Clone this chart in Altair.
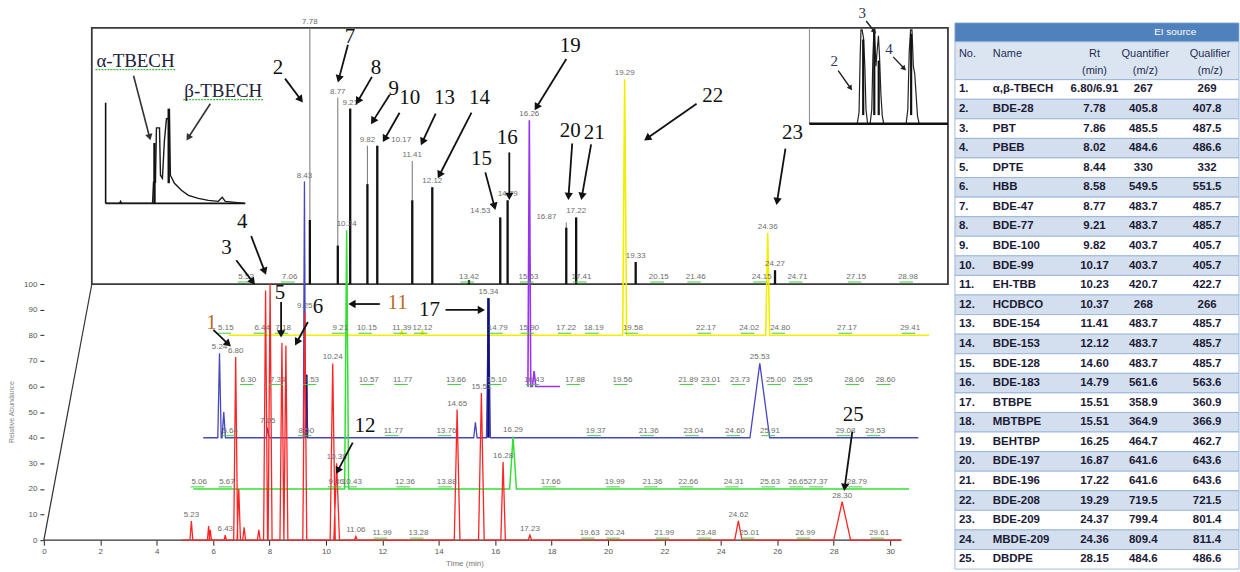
import math
import altair as alt
import pandas as pd

# ---------------------------------------------------------------------------
# Chromatogram peaks.  Each trace keeps retention times (min) on its own time
# base, peak heights (% above the trace baseline) and peak half-widths (min).
# ---------------------------------------------------------------------------
RED_RT = [5.23, 5.84, 5.90, 6.43, 6.80, 6.91, 7.10, 7.62, 7.86, 8.02, 8.44, 8.58,
          9.25, 10.24, 10.38, 11.06, 14.65, 15.51, 16.28, 17.23, 24.62, 28.30]
RED_H = [7.5, 5.5, 4.0, 2.0, 71.5, 20.0, 5.0, 4.0, 97.5, 100.0, 77.0, 76.0,
         89.0, 69.0, 30.0, 1.5, 51.0, 57.5, 30.5, 2.0, 7.5, 15.0]
RED_W = [0.05, 0.04, 0.04, 0.04, 0.07, 0.06, 0.05, 0.05, 0.07, 0.07, 0.07, 0.07,
         0.07, 0.09, 0.10, 0.05, 0.10, 0.10, 0.08, 0.06, 0.13, 0.30]
RED_LABELLED = [5.23, 6.43, 6.80, 9.25, 10.24, 10.38, 11.06, 14.65, 15.51, 16.28,
                17.23, 24.62, 28.30]
RED_NOISE = [11.99, 13.28, 19.63, 20.24, 21.99, 23.48, 25.01, 26.99, 29.61]

GREEN_RT = [10.24, 16.29]
GREEN_H = [101.0, 20.5]
GREEN_W = [0.07, 0.12]
GREEN_LABELLED = [10.24, 16.29]
GREEN_NOISE = [5.06, 5.67, 9.86, 10.43, 12.36, 13.88, 17.66, 19.99, 21.36, 22.66,
               24.31, 25.63, 26.65, 27.37, 28.79]

BLUE_RT = [5.24, 5.40, 7.05, 8.43, 8.50, 14.85, 15.34, 25.53]
BLUE_H = [33.0, 10.0, 4.0, 100.0, 24.6, 6.0, 54.5, 29.0]
BLUE_W = [0.06, 0.06, 0.05, 0.04, 0.05, 0.06, 0.07, 0.35]
BLUE_LABELLED = [5.24, 7.05, 8.43, 15.34, 25.53]
BLUE_CORE = [8.50, 15.34]
BLUE_NOISE = [5.64, 8.50, 11.77, 13.76, 19.37, 21.36, 23.04, 24.60, 25.91, 29.08, 29.53]

PURPLE_RT = [16.26, 16.43]
PURPLE_H = [104.0, 6.0]
PURPLE_W = [0.05, 0.06]
PURPLE_LABELLED = [16.26]
PURPLE_NOISE = [6.30, 7.34, 8.53, 10.57, 11.77, 13.66, 15.10, 16.43, 17.88, 19.56,
                21.89, 23.01, 23.73, 25.00, 25.95, 28.06, 28.60]

YELLOW_RT = [11.39, 12.12, 19.29, 24.36]
YELLOW_H = [2.0, 2.0, 100.0, 40.0]
YELLOW_W = [0.04, 0.04, 0.07, 0.07]
YELLOW_LABELLED = [19.29, 24.36]
YELLOW_NOISE = [5.15, 6.44, 7.18, 9.21, 10.15, 11.39, 12.12, 14.79, 15.90, 17.22,
                18.19, 19.58, 22.17, 24.02, 24.80, 27.17, 29.41]

# zoomed (boxed) chromatogram: total peak height and height of the dark core
BOX_RT = [7.78, 8.77, 9.21, 9.82, 10.17, 11.41, 12.12, 13.42, 14.53, 14.79, 16.87,
          17.22, 19.33, 24.27]
BOX_TOP = [100.0, 72.8, 68.5, 54.0, 54.0, 48.0, 37.8, 1.5, 26.0, 32.7, 24.0, 26.0,
           8.6, 5.4]
BOX_CORE = [25.0, 15.0, 68.5, 39.0, 54.0, 32.7, 37.8, 1.5, 26.0, 32.7, 22.0, 26.0,
            8.6, 5.4]
BOX_LABELLED = [7.78, 8.77, 9.21, 9.82, 11.41, 12.12, 14.79, 17.22, 19.33, 24.27]
BOX_LABEL_RIGHT = [10.17]
BOX_LABEL_LEFT = [14.53, 16.87]
BOX_NOISE = [5.52, 7.06, 13.42, 15.53, 17.41, 20.15, 21.46, 24.15, 24.71, 27.15, 28.98]

# inset: alpha/beta-TBECH (inset time units 0-10, abundance 0-100)
TL_U = [0.0, 1.0, 1.07, 1.15, 3.36, 3.43, 3.57, 3.64, 3.86, 3.93, 4.07, 4.21, 4.36,
        4.50, 4.57, 4.64, 4.93, 5.43, 5.93, 6.64, 7.36, 8.07, 8.36, 8.57, 10.0]
TL_V = [0, 0, 2, 0, 0, 21, 21, 75, 75, 28, 25, 62, 84, 84, 94, 28, 20, 13, 8, 5, 3,
        2, 6, 2, 0]
# inset: peaks 2-4
TR_U = [0, 3.45, 3.58, 3.66, 3.72, 3.80, 3.90, 4.00, 4.08, 4.20, 4.38, 4.50, 4.58,
        4.66, 4.74, 4.80, 4.88, 4.98, 5.06, 5.16, 5.26, 5.36, 6.98, 7.10, 7.20, 7.30,
        7.40, 7.50, 7.60, 7.70, 7.80, 7.92, 10]
TR_V = [0, 0, 12, 70, 98, 98, 90, 60, 15, 0, 0, 15, 70, 99, 80, 60, 75, 92, 70, 30,
        8, 0, 0, 15, 75, 98, 98, 60, 52, 30, 8, 0, 0]
TR_CORE_U = [3.88, 4.68, 5.00, 7.34]
TR_CORE_V = [88, 97, 66, 94]

# numbered compound call-outs: label position and arrow (from -> to), in (min, %)
ANN_TEXT = ["1", "2", "3", "4", "5", "6", "7", "8", "9", "10", "11", "12", "13",
            "14", "15", "16", "17", "19", "20", "21", "22", "23", "25"]
ANN_T = [5.94, 8.30, 6.47, 7.03, 8.37, 9.72, 10.85, 11.77, 12.40, 12.97, 12.54, 11.38,
         14.20, 15.44, 15.51, 16.43, 13.67, 18.66, 18.66, 19.51, 23.71, 26.54, 28.69]
ANN_A = [84.8, 184.4, 114.0, 124.1, 96.5, 91.1, 196.5, 184.4, 176.3, 172.8, 92.6, 44.7,
         172.8, 172.8, 149.0, 157.2, 89.9, 193.0, 159.9, 159.1, 173.5, 159.1, 49.0]
ARR_T0 = [6.01, 8.55, 6.82, 7.35, 8.41, 9.36, 10.78, 11.63, 12.26, 12.61, 11.91, 10.95,
          13.89, 15.16, 15.65, 16.50, 14.24, 18.52, 18.73, 19.40, 23.14, 26.29, 28.66]
ARR_A0 = [82.1, 180.2, 109.3, 118.7, 93.0, 85.2, 193.4, 180.9, 173.9, 166.9, 92.2, 38.1,
          166.5, 166.9, 143.6, 151.4, 89.9, 187.9, 154.9, 154.5, 170.4, 152.9, 42.4]
ARR_T1 = [6.64, 9.19, 7.49, 7.88, 8.41, 8.90, 10.42, 11.06, 11.59, 12.01, 10.78, 10.35,
          13.36, 13.96, 16.01, 16.50, 15.65, 17.39, 18.59, 19.05, 21.27, 25.97, 28.37]
ARR_A1 = [75.5, 170.8, 99.6, 103.5, 79.0, 75.9, 178.6, 170.0, 162.3, 155.3, 92.2, 25.7,
          154.1, 141.2, 128.8, 132.7, 89.9, 167.7, 132.7, 132.7, 156.0, 130.7, 19.1]
ANN_HIGHLIGHT = ["1", "11"]

INSET_TEXT = ["2", "3", "4"]
INSET_T = [28.02, 29.01, 29.96]
INSET_A = [187.2, 205.8, 191.8]
INSET_T0 = [28.16, 29.15, 30.11]
INSET_A0 = [183.3, 202.7, 188.7]
INSET_T1 = [28.66, 29.51, 30.57]
INSET_A1 = [175.5, 197.7, 183.3]

ISOMER_TEXT = ["α-TBECH", "β-TBECH"]
ISOMER_T = [3.25, 6.36]
ISOMER_A = [187.2, 175.5]
ISOMER_T0 = [3.18, 5.90]
ISOMER_A0 = [181.3, 170.4]
ISOMER_T1 = [3.78, 5.05]
ISOMER_A1 = [156.0, 156.0]

X_TICKS = list(range(0, 31, 2))
Y_TICKS = list(range(0, 101, 10))

# compound table
TAB_NO = [f"{i}." for i in range(1, 26)]
TAB_NAME = ["α,β-TBECH", "BDE-28", "PBT", "PBEB", "DPTE", "HBB", "BDE-47", "BDE-77",
            "BDE-100", "BDE-99", "EH-TBB", "HCDBCO", "BDE-154", "BDE-153", "BDE-128",
            "BDE-183", "BTBPE", "MBTBPE", "BEHTBP", "BDE-197", "BDE-196", "BDE-208",
            "BDE-209", "MBDE-209", "DBDPE"]
TAB_RT = ["6.80/6.91", "7.78", "7.86", "8.02", "8.44", "8.58", "8.77", "9.21", "9.82",
          "10.17", "10.23", "10.37", "11.41", "12.12", "14.60", "14.79", "15.51",
          "15.51", "16.25", "16.87", "17.22", "19.29", "24.37", "24.36", "28.15"]
TAB_QUANT = ["267", "405.8", "485.5", "484.6", "330", "549.5", "483.7", "483.7",
             "403.7", "403.7", "420.7", "268", "483.7", "483.7", "483.7", "561.6",
             "358.9", "364.9", "464.7", "641.6", "641.6", "719.5", "799.4", "809.4",
             "484.6"]
TAB_QUAL = ["269", "407.8", "487.5", "486.6", "332", "551.5", "485.7", "485.7",
            "405.7", "405.7", "422.7", "266", "485.7", "485.7", "485.7", "563.6",
            "360.9", "366.9", "462.7", "643.6", "643.6", "721.5", "801.4", "811.4",
            "486.6"]

# ---------------------------------------------------------------------------
# geometry and scales of the chromatogram panel
# ---------------------------------------------------------------------------
W, H = 907, 536
T_MAX, A_MAX = 32.05, 208.6
PX_T, PX_A = W / T_MAX, H / A_MAX
BOX_LEFT = 1.70

# small sideways nudges (px) that keep neighbouring retention-time labels apart
LABEL_NUDGE = {("red", 19.63): -8, ("green", 5.06): -5, ("green", 5.67): 6,
               ("blue", 29.08): -9, ("blue", 29.53): 9,
               ("purple", 23.01): -9, ("purple", 28.06): -8, ("purple", 28.60): 8,
               ("yellow", 24.02): -9, ("box", 24.15): -10, ("box", 24.71): 10}

XS = alt.Scale(domain=[0, T_MAX], nice=False, zero=False)
YS = alt.Scale(domain=[0, A_MAX], nice=False, zero=False)
XAX = alt.Axis(values=X_TICKS, title="Time (min)", domain=False, grid=False,
               tickColor="#222", tickSize=5, labelFontSize=8, labelColor="#555",
               labelFont="Liberation Sans", labelFlush=False, labelPadding=2,
               titleFont="Liberation Sans", titleFontSize=8, titleColor="#777",
               titleFontWeight="normal", titleX=422, titlePadding=4)
YAX = alt.Axis(values=Y_TICKS, title="Relative Abundance", domain=False, grid=False,
               tickColor="#222", tickSize=4, labelFontSize=8, labelColor="#555",
               labelFont="Liberation Sans", labelPadding=3,
               titleFont="Liberation Sans", titleFontSize=7, titleColor="#888",
               titleFontWeight="normal", titleX=-29, titleY=407)


def X(f="t"):
    return alt.X(f"{f}:Q", scale=XS, axis=XAX)


def Y(f="a"):
    return alt.Y(f"{f}:Q", scale=YS, axis=YAX)


def trace_frame(rts, hs, ws, base, start, end, shift, stretch):
    pts = [(start, base)]
    for rt, h, w in sorted(zip(rts, hs, ws)):
        t = shift + stretch * rt
        pts += [(t - w, base), (t, base + h), (t + w, base)]
    pts.append((end, base))
    return pd.DataFrame({"i": range(len(pts)), "t": [p[0] for p in pts],
                         "a": [p[1] for p in pts]})


def trace_layer(df, color, width):
    return alt.Chart(df).mark_line(color=color, strokeWidth=width).encode(
        x=X(), y=Y(), order="i:Q")


def peak_label_frame(rts, hs, labelled, base, shift, stretch):
    rows = [dict(t=shift + stretch * rt, a=base + h, label=f"{rt:.2f}")
            for rt, h in zip(rts, hs) if rt in labelled]
    return pd.DataFrame(rows)


def noise_frame(name, values, base, shift, stretch):
    ts = [shift + stretch * v + LABEL_NUDGE.get((name, v), 0) / PX_T for v in values]
    return pd.DataFrame({"t": ts, "a": [base] * len(values),
                         "label": [f"{v:.2f}" for v in values]})


LABEL_STYLE = dict(fontSize=8, color="#6d6d6d", font="Liberation Sans",
                   baseline="bottom")


def label_layer(df, dx=0, dy=-2):
    return alt.Chart(df).mark_text(dx=dx, dy=dy, **LABEL_STYLE).encode(
        x=X(), y=Y(), text="label:N")


def underline_layer(df):
    return alt.Chart(df).transform_calculate(
        t0="datum.t - 0.30", t1="datum.t + 0.18", au="datum.a + 0.8"
    ).mark_rule(color="#3fcf3f", strokeWidth=1).encode(
        x=X("t0"), x2="t1:Q", y=Y("au"))


def arrow_frames(t0s, a0s, t1s, a1s, back_px):
    shafts, heads = [], []
    for t0, a0, t1, a1 in zip(t0s, a0s, t1s, a1s):
        dx, dy = (t1 - t0) * PX_T, (a1 - a0) * PX_A
        n = math.hypot(dx, dy)
        ux, uy = dx / n, dy / n
        th, ah = t1 - ux * back_px / PX_T, a1 - uy * back_px / PX_A
        shafts.append(dict(t=t0, a=a0, t2=th, a2=ah))
        heads.append(dict(t=th, a=ah, ang=math.degrees(math.atan2(dx, dy)) % 360))
    return pd.DataFrame(shafts), pd.DataFrame(heads)


def arrow_layers(t0s, a0s, t1s, a1s, width, head, back_px, color="#111"):
    s, h = arrow_frames(t0s, a0s, t1s, a1s, back_px)
    shaft = alt.Chart(s).mark_rule(color=color, strokeWidth=width).encode(
        x=X(), x2="t2:Q", y=Y(), y2="a2:Q")
    tip = alt.Chart(h).mark_point(shape="triangle-up", filled=True, size=head,
                                  color=color, opacity=1).encode(
        x=X(), y=Y(), angle=alt.Angle("ang:Q", scale=None))
    return [shaft, tip]


def rule_frame(t0, a0, t1, a1):
    return pd.DataFrame({"t": [t0], "a": [a0], "t2": [t1], "a2": [a1]})


def rule_layer(df, color, width, dash=None):
    kw = dict(color=color, strokeWidth=width)
    if dash:
        kw["strokeDash"] = dash
    return alt.Chart(df).mark_rule(**kw).encode(x=X(), x2="t2:Q", y=Y(), y2="a2:Q")


layers = []

# axis line and the zoom connector
layers.append(rule_layer(rule_frame(0, 0, 30.4, 0), "#333", 1.3))
layers.append(rule_layer(rule_frame(0, 0, BOX_LEFT, 100), "#333", 1.2))

# zoom frame
box = pd.DataFrame({"t": [BOX_LEFT], "t2": [T_MAX], "a": [100], "a2": [200]})
layers.append(alt.Chart(box).mark_rect(fillOpacity=0, stroke="#3a3a3a",
                                       strokeWidth=1.8).encode(
    x=X(), x2="t2:Q", y=Y(), y2="a2:Q"))

# boxed peaks: grey outline and dark core
BOX_SHIFT, BOX_BASE = 1.65, 100
bx = pd.DataFrame({"t": [BOX_SHIFT + r for r in BOX_RT],
                   "a": [BOX_BASE] * len(BOX_RT),
                   "top": [BOX_BASE + h for h in BOX_TOP],
                   "core": [BOX_BASE + c for c in BOX_CORE]})
layers.append(alt.Chart(bx).mark_rule(color="#808080", strokeWidth=1.1).encode(
    x=X(), y=Y(), y2="top:Q"))
layers.append(alt.Chart(bx).mark_rule(color="#111", strokeWidth=2.3).encode(
    x=X(), y=Y(), y2="core:Q"))

# main traces
red = trace_frame(RED_RT, RED_H, RED_W, 0, 4.9, 30.4, 0.0, 1.0)
green = trace_frame(GREEN_RT, GREEN_H, GREEN_W, 20, 5.3, 30.67, 0.75, 0.975)
blue = trace_frame(BLUE_RT, BLUE_H, BLUE_W, 40, 5.65, 31.0, 1.28, 0.944)
purple = trace_frame(PURPLE_RT, PURPLE_H, PURPLE_W, 60, 17.15, 18.3, 0.95, 1.0)
yellow = trace_frame(YELLOW_RT, YELLOW_H, YELLOW_W, 80, 6.54, 31.38, 1.30, 1.0)

layers.append(trace_layer(yellow, "#f2ee00", 1.6))
layers.append(trace_layer(purple, "#9a30f0", 1.6))
layers.append(trace_layer(blue, "#4646c0", 1.3))
blue_core = pd.DataFrame({"t": [1.28 + 0.944 * r for r in BLUE_CORE],
                          "a": [40] * len(BLUE_CORE),
                          "top": [40 + BLUE_H[BLUE_RT.index(r)] for r in BLUE_CORE]})
layers.append(alt.Chart(blue_core).mark_rule(color="#10107a", strokeWidth=2.6).encode(
    x=X(), y=Y(), y2="top:Q"))
layers.append(trace_layer(green, "#33df33", 1.5))
layers.append(trace_layer(red, "#ff2424", 1.3))

# retention-time labels
noise = pd.concat([
    noise_frame("red", RED_NOISE, 0, 0.0, 1.0),
    noise_frame("green", GREEN_NOISE, 20, 0.75, 0.975),
    noise_frame("blue", BLUE_NOISE, 40, 1.28, 0.944),
    noise_frame("purple", PURPLE_NOISE, 60, 0.95, 1.0),
    noise_frame("yellow", YELLOW_NOISE, 80, 1.30, 1.0),
    noise_frame("box", BOX_NOISE, 100, BOX_SHIFT, 1.0),
], ignore_index=True)
layers.append(underline_layer(noise))
layers.append(label_layer(noise, dy=-3))

peaks = pd.concat([
    peak_label_frame(RED_RT, RED_H, RED_LABELLED, 0, 0.0, 1.0),
    peak_label_frame(GREEN_RT, GREEN_H, GREEN_LABELLED, 20, 0.75, 0.975),
    peak_label_frame(BLUE_RT, BLUE_H, BLUE_LABELLED, 40, 1.28, 0.944),
    peak_label_frame(PURPLE_RT, PURPLE_H, PURPLE_LABELLED, 60, 0.95, 1.0),
    peak_label_frame(YELLOW_RT, YELLOW_H, YELLOW_LABELLED, 80, 1.30, 1.0),
    peak_label_frame(BOX_RT, BOX_TOP, BOX_LABELLED, 100, BOX_SHIFT, 1.0),
], ignore_index=True)
layers.append(label_layer(peaks))
layers.append(label_layer(peak_label_frame(BOX_RT, BOX_TOP, BOX_LABEL_RIGHT, 100,
                                           BOX_SHIFT, 1.0), dx=24))
layers.append(label_layer(peak_label_frame(BOX_RT, BOX_TOP, BOX_LABEL_LEFT, 100,
                                           BOX_SHIFT, 1.0), dx=-20))

# inset: alpha/beta-TBECH
TL_T0, TL_TS, TL_A0, TL_AS = 2.19, 0.4947, 131.5, 0.393
tl = pd.DataFrame({"i": range(len(TL_U)), "t": [TL_T0 + u * TL_TS for u in TL_U],
                   "a": [TL_A0 + v * TL_AS for v in TL_V]})
layers.append(rule_layer(rule_frame(TL_T0, TL_A0, TL_T0 + 10 * TL_TS, TL_A0), "#111", 1.6))
layers.append(rule_layer(rule_frame(TL_T0, TL_A0, TL_T0, TL_A0 + 100 * TL_AS), "#111", 1.6))
layers.append(trace_layer(tl, "#1a1a1a", 1.4))
tl_core = pd.DataFrame({"t": [TL_T0 + 3.50 * TL_TS, TL_T0 + 4.52 * TL_TS],
                        "a": [TL_A0, TL_A0 + 20 * TL_AS],
                        "top": [TL_A0 + 60 * TL_AS, TL_A0 + 94 * TL_AS]})
layers.append(alt.Chart(tl_core).mark_rule(color="#111", strokeWidth=2.4).encode(
    x=X(), y=Y(), y2="top:Q"))

# inset: peaks 2-4
TR_T0, TR_TS, TR_A0, TR_AS = 27.14, 0.4912, 162.6, 0.3735
tr = pd.DataFrame({"i": range(len(TR_U)), "t": [TR_T0 + u * TR_TS for u in TR_U],
                   "a": [TR_A0 + v * TR_AS for v in TR_V]})
layers.append(rule_layer(rule_frame(TR_T0, TR_A0, TR_T0, TR_A0 + 100 * TR_AS), "#888", 1.0))
layers.append(trace_layer(tr, "#222", 1.2))
tr_core = pd.DataFrame({"t": [TR_T0 + u * TR_TS for u in TR_CORE_U],
                        "a": [TR_A0 + 9 * TR_AS] * len(TR_CORE_U),
                        "top": [TR_A0 + v * TR_AS for v in TR_CORE_V]})
layers.append(alt.Chart(tr_core).mark_rule(color="#111", strokeWidth=2.2).encode(
    x=X(), y=Y(), y2="top:Q"))
layers.append(rule_layer(rule_frame(TR_T0, TR_A0, T_MAX, TR_A0), "#111", 2.6))

# isomer labels with their wavy underline
iso = pd.DataFrame({"t": ISOMER_T, "a": ISOMER_A, "label": ISOMER_TEXT})
iso_line = iso.assign(t0=iso["t"] - 1.42, t1=iso["t"] + 1.42, au=iso["a"] - 3.5)
layers.append(alt.Chart(iso_line).mark_rule(color="#44bb44", strokeWidth=1.3,
                                            strokeDash=[2, 1]).encode(
    x=X("t0"), x2="t1:Q", y=Y("au")))
layers.append(alt.Chart(iso).mark_text(font="Liberation Serif", fontSize=19,
                                       color="#222238", baseline="middle").encode(
    x=X(), y=Y(), text="label:N"))
layers += arrow_layers(ISOMER_T0, ISOMER_A0, ISOMER_T1, ISOMER_A1, 1.6, 55, 3.5, "#333")

# numbered call-outs
ann = pd.DataFrame({"t": ANN_T, "a": ANN_A, "label": ANN_TEXT})
layers += arrow_layers(ARR_T0, ARR_A0, ARR_T1, ARR_A1, 1.8, 70, 4.0)
layers.append(alt.Chart(ann).mark_text(font="Liberation Serif", fontSize=21,
                                       baseline="middle").encode(
    x=X(), y=Y(), text="label:N",
    color=alt.condition(alt.FieldOneOfPredicate(field="label", oneOf=ANN_HIGHLIGHT),
                        alt.value("#b8702a"), alt.value("#111"))))

ins = pd.DataFrame({"t": INSET_T, "a": INSET_A, "label": INSET_TEXT})
layers += arrow_layers(INSET_T0, INSET_A0, INSET_T1, INSET_A1, 1.4, 35, 3.0, "#222")
layers.append(alt.Chart(ins).mark_text(font="Liberation Serif", fontSize=15,
                                       color="#2d3560", baseline="middle").encode(
    x=X(), y=Y(), text="label:N"))

main = alt.layer(*layers).properties(width=W, height=H)

# ---------------------------------------------------------------------------
# compound table
# ---------------------------------------------------------------------------
TW, TH = 285, 565
ROW_TOP = -3.768
TXS = alt.Scale(domain=[0, TW], nice=False, zero=False)
TYS = alt.Scale(domain=[ROW_TOP, 25], nice=False, zero=False, reverse=True)


def TX(f="x"):
    return alt.X(f"{f}:Q", scale=TXS, axis=None)


def TY(f="y"):
    return alt.Y(f"{f}:Q", scale=TYS, axis=None)


bands = [dict(x=0, x2=TW, y=-2.90, y2=-1.935, fill="#4f81bd"),
         dict(x=0, x2=TW, y=-1.935, y2=0, fill="#dbe5f1")]
bands += [dict(x=0, x2=TW, y=i, y2=i + 1, fill="#ffffff" if i % 2 == 0 else "#d3dfee")
          for i in range(len(TAB_NO))]
bands = pd.DataFrame(bands)
t_rect = alt.Chart(bands).mark_rect(stroke="#8fadd6", strokeWidth=0.8).encode(
    x=TX(), x2="x2:Q", y=TY(), y2="y2:Q", fill=alt.Fill("fill:N", scale=None))

TABLE_FONT = "Liberation Sans Narrow, Liberation Sans, sans-serif"
cells = []
for col, xpos, side in [(TAB_NO, 4, "left"), (TAB_NAME, 38, "left"),
                        (TAB_RT, 140, "center"), (TAB_QUANT, 189, "center"),
                        (TAB_QUAL, 253, "center")]:
    for i, v in enumerate(col):
        cells.append(dict(x=xpos, y=i + 0.5, label=v, side=side))
cells = pd.DataFrame(cells)
t_left = alt.Chart(cells[cells["side"] == "left"]).mark_text(
    font=TABLE_FONT, fontSize=11.5, fontWeight="bold", color="#1b1b36", align="left",
    baseline="middle").encode(x=TX(), y=TY(), text="label:N")
t_center = alt.Chart(cells[cells["side"] == "center"]).mark_text(
    font=TABLE_FONT, fontSize=11.5, fontWeight="bold", color="#1b1b36", align="center",
    baseline="middle").encode(x=TX(), y=TY(), text="label:N")

heads = pd.DataFrame([
    dict(x=4, y=-1.32, label="No.", side="left"),
    dict(x=38, y=-1.32, label="Name", side="left"),
    dict(x=140, y=-1.32, label="Rt", side="center"),
    dict(x=140, y=-0.46, label="(min)", side="center"),
    dict(x=191, y=-1.32, label="Quantifier", side="center"),
    dict(x=191, y=-0.46, label="(m/z)", side="center"),
    dict(x=256, y=-1.32, label="Qualifier", side="center"),
    dict(x=256, y=-0.46, label="(m/z)", side="center"),
])
h_left = alt.Chart(heads[heads["side"] == "left"]).mark_text(
    font=TABLE_FONT, fontSize=11, color="#1f2d55", align="left",
    baseline="middle").encode(x=TX(), y=TY(), text="label:N")
h_center = alt.Chart(heads[heads["side"] == "center"]).mark_text(
    font=TABLE_FONT, fontSize=11, color="#1f2d55", align="center",
    baseline="middle").encode(x=TX(), y=TY(), text="label:N")
ei = pd.DataFrame({"x": [221], "y": [-2.42], "label": ["EI source"]})
h_ei = alt.Chart(ei).mark_text(font=TABLE_FONT, fontSize=10, color="#ffffff",
                               baseline="middle").encode(x=TX(), y=TY(), text="label:N")

table = alt.layer(t_rect, t_left, t_center, h_left, h_center, h_ei).properties(
    width=TW, height=TH)

chart = alt.hconcat(main, table, spacing=3).properties(
    padding={"left": 8, "top": 5, "right": 0, "bottom": 0}
).configure_view(stroke=None)

chart.save("out.html", embed_options={"renderer": "svg", "actions": False})
